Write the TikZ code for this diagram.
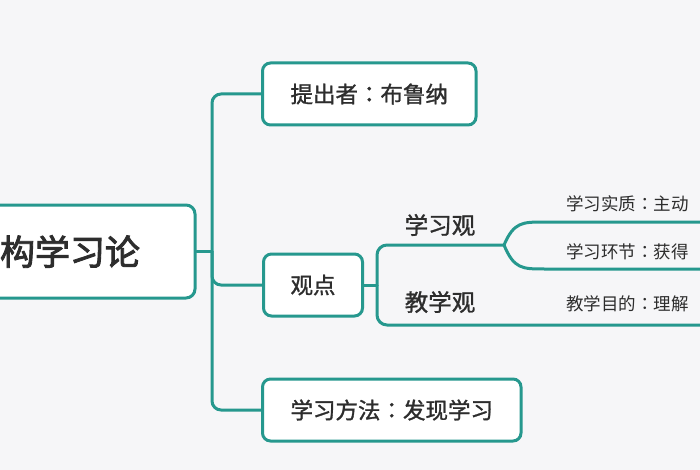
\documentclass[tikz,border=0pt]{standalone}
\usepackage{fontspec}
\newfontfamily\cjk{Noto Sans CJK SC}[AutoFakeBold=1.2]
\newfontfamily\cjkroot{Noto Sans CJK SC}[AutoFakeBold=2.5]
\newfontfamily\cjkcolon{Noto Sans CJK TC}[AutoFakeBold=1.2]
\newcommand{\fwcolon}{{\cjkcolon ：}}
\usetikzlibrary{positioning, calc}
\definecolor{teal1}{RGB}{38,152,142}
\definecolor{txtcol}{RGB}{45,45,45}
\definecolor{bgcol}{RGB}{246,246,248}

\begin{document}
\begin{tikzpicture}[
        x=1pt, y=-1pt,
        font=\cjk, text=txtcol,
        % Styles for nodes
        rootbox/.style={
            rectangle, draw=teal1, line width=3pt, fill=white,
            rounded corners=9pt, minimum width=250pt, minimum height=93pt,
            inner sep=0pt, font=\cjkroot\bfseries\fontsize{35}{40}\selectfont
        },
        topic/.style={
            rectangle, draw=teal1, line width=3pt, fill=white,
            rounded corners=8pt, minimum height=62pt, inner xsep=28pt,
            font=\cjk\bfseries\fontsize{22.5}{26}\selectfont
        },
        sublabel/.style={
            inner sep=0pt, font=\cjk\bfseries\fontsize{23.5}{27}\selectfont
        },
        leaf/.style={
            anchor=west, inner sep=0pt, font=\cjk\fontsize{17.5}{21}\selectfont
        },
        % Style for connecting lines
        conn/.style={
            draw=teal1, line width=3pt, line cap=round
        }
    ]
    \useasboundingbox (0,0) rectangle (700,470);
    \clip (0,0) rectangle (700,470);
    \fill[bgcol] (0,0) rectangle (700,470);

    % 1. MAIN NODES
    \node[rootbox] (root) at (70, 251.5) {构学习论};
    \node[topic, anchor=west] (who)    at (261, 94)  {提出者\fwcolon 布鲁纳};
    \node[topic, anchor=west, minimum width=99pt, inner xsep=0pt] (view) at (262, 285) {观点};
    \node[topic, anchor=west] (method) at (261, 410) {学习方法\fwcolon 发现学习};

    % 2. TRUNK CONNECTORS
    \coordinate (trunk) at (212, 251.5);
    \draw[conn] (root.east) -- (trunk);
    \draw[conn, rounded corners=9pt] (who.west) -| (trunk) |- (method.west);
    \draw[conn, rounded corners=9pt] (trunk) |- (view.west);

    % 3. VIEW BRANCHES
    \coordinate (split) at (377, 285);
    \coordinate (fork)  at (504, 245);
    \coordinate (edgeT) at (715, 325);
    \node[sublabel] (learnview) at (440, 225) {学习观};
    \node[sublabel] (teachview) at (440, 302) {教学观};

    \draw[conn] (view.east) -- (split);
    \draw[conn, rounded corners=10pt] (fork) -| (split) |- (edgeT);

    % Fork of the learning view
    \coordinate (edgeA) at (715, 222);
    \coordinate (edgeB) at (715, 269);
    \draw[conn] (fork) .. controls (514, 222) and (522, 222) .. (545, 222) -- (edgeA);
    \draw[conn] (fork) .. controls (514, 269) and (522, 269) .. (545, 269) -- (edgeB);

    % 4. LEAVES
    \node[leaf] (essence) at (566, 204) {学习实质\fwcolon 主动};
    \node[leaf] (steps)   at (566, 252) {学习环节\fwcolon 获得};
    \node[leaf] (aim)     at (566, 304) {教学目的\fwcolon 理解};

\end{tikzpicture}
\end{document}
